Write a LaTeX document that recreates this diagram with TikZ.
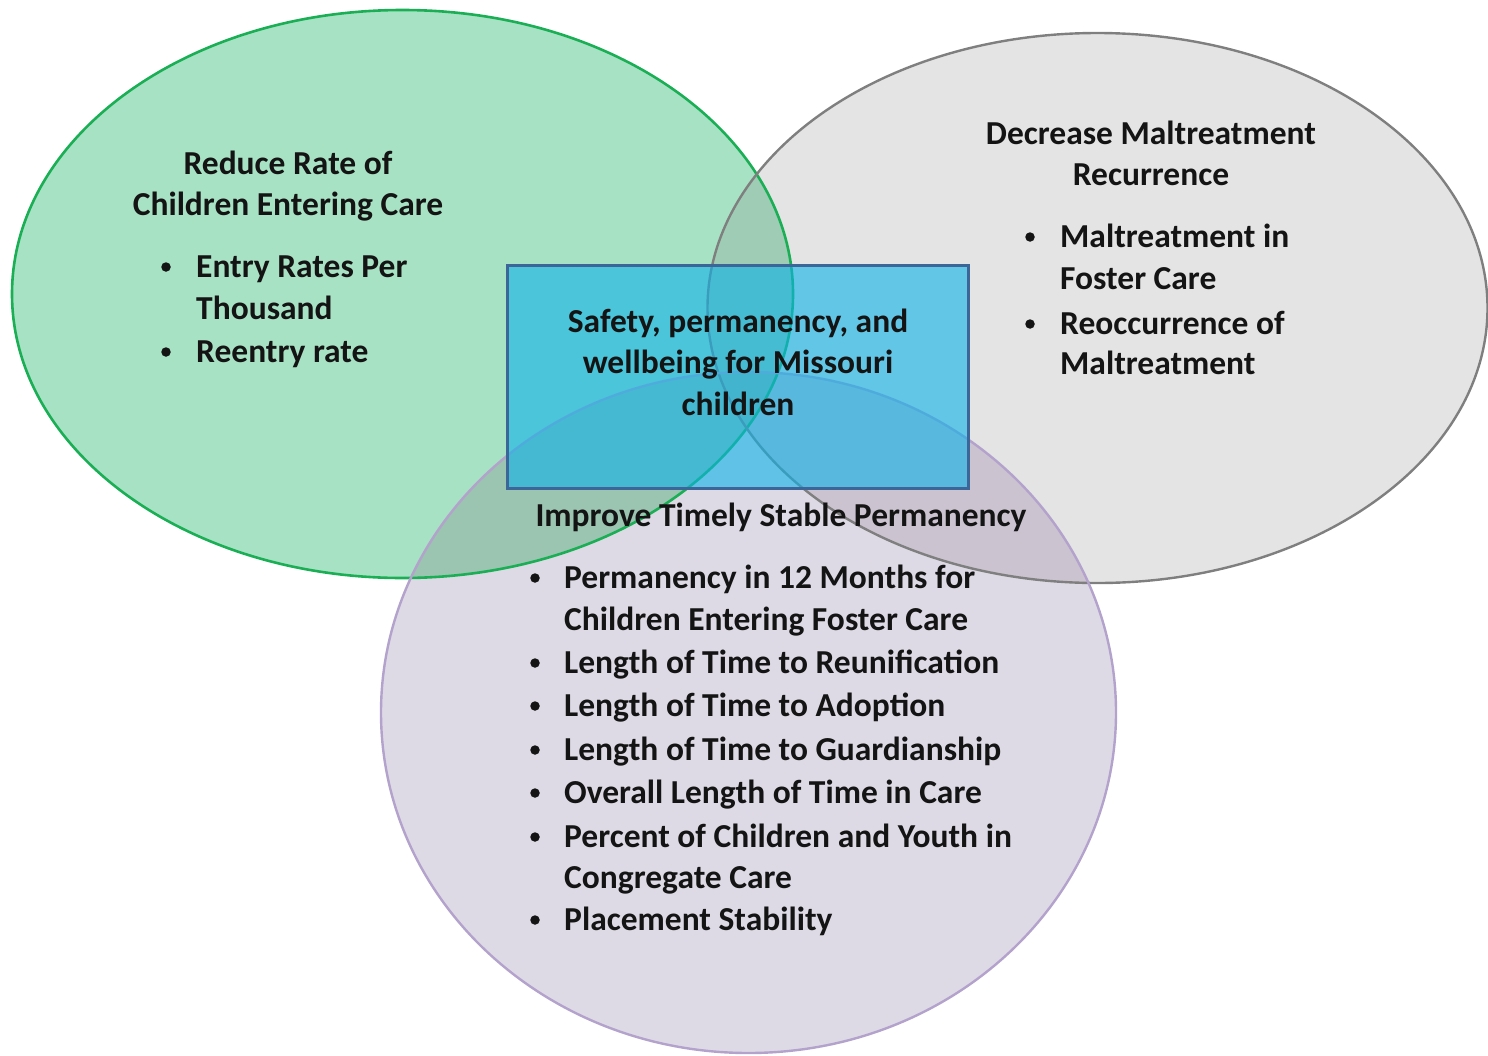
\documentclass[tikz,border=0pt]{standalone}
\usepackage{fontspec}
\setmainfont{Carlito}
\definecolor{gfill}{HTML}{A8E2C4}
\definecolor{gline}{HTML}{1BAF55}
\definecolor{yfill}{HTML}{E4E4E4}
\definecolor{yline}{HTML}{7F7F7F}
\definecolor{pfill}{HTML}{DEDAE5}
\definecolor{pline}{HTML}{B3A2CC}
\definecolor{gy}{HTML}{9FCCB5}
\definecolor{gp}{HTML}{9BC4B1}
\definecolor{yp}{HTML}{CBC3D0}
\definecolor{gyp}{HTML}{93B8A8}
\definecolor{boxc}{HTML}{0CB2E8}
\definecolor{boxline}{HTML}{3D6598}
\definecolor{textc}{HTML}{141414}
\begin{document}
\begin{tikzpicture}[x=1pt,y=-1pt,
  txt/.style={font=\fontsize{33.5}{41}\selectfont\bfseries, text=textc, inner sep=0pt},
  bul/.style={circle, fill=textc, inner sep=0pt, minimum size=9.5pt}]
\useasboundingbox (0,0) rectangle (1488,1055);
\def\greenE{(402.5,294) ellipse [x radius=390.5, y radius=284]}
\def\grayE{(1097.5,308) ellipse [x radius=390, y radius=275]}
\def\purpE{(748.5,712.5) ellipse [x radius=367.5, y radius=340.5]}
% fills
\fill[gfill] \greenE;
\fill[yfill] \grayE;
\fill[pfill] \purpE;
\begin{scope}\clip \greenE; \fill[gy] \grayE; \end{scope}
\begin{scope}\clip \greenE; \fill[gp] \purpE; \end{scope}
\begin{scope}\clip \grayE; \fill[yp] \purpE; \end{scope}
\begin{scope}\clip \greenE; \clip \grayE; \fill[gyp] \purpE; \end{scope}
% outlines
\draw[gline, line width=2.6pt] \greenE;
\draw[yline, line width=2.4pt] \grayE;
\draw[pline, line width=2.4pt] \purpE;
% central box
\node[draw=boxline, line width=3pt, fill=boxc, fill opacity=0.6, draw opacity=1,
  minimum width=461pt, minimum height=223pt, inner sep=0pt] (box) at (737.5,376.5) {};
\node[txt, anchor=base] (c1) at (738,332) {Safety, permanency, and};
\node[txt, anchor=base] (c2) at (738,373) {wellbeing for Missouri};
\node[txt, anchor=base] (c3) at (738,415) {children};
% green circle text
\node[txt, anchor=base] (g1) at (288,174) {Reduce Rate of};
\node[txt, anchor=base] (g2) at (288,215) {Children Entering Care};
\node[bul] (gb1) at (166,267) {};
\node[txt, anchor=base west] (g3) at (196,277) {Entry Rates Per};
\node[txt, anchor=base west] (g4) at (196,319) {Thousand};
\node[bul] (gb2) at (166,352) {};
\node[txt, anchor=base west] (g5) at (196,362) {Reentry rate};
% gray circle text
\node[txt, anchor=base] (y1) at (1151,144) {Decrease Maltreatment};
\node[txt, anchor=base] (y2) at (1151,185) {Recurrence};
\node[bul] (yb1) at (1030,237) {};
\node[txt, anchor=base west] (y3) at (1060,247) {Maltreatment in};
\node[txt, anchor=base west] (y4) at (1060,289) {Foster Care};
\node[bul] (yb2) at (1030,324) {};
\node[txt, anchor=base west] (y5) at (1060,334) {Reoccurrence of};
\node[txt, anchor=base west] (y6) at (1060,374) {Maltreatment};
% purple circle text
\node[txt, anchor=base] (p0) at (781,526) {Improve Timely Stable Permanency};
\node[bul] (pb1) at (535,578) {};
\node[txt, anchor=base west] (p1) at (564,588) {Permanency in 12 Months for};
\node[txt, anchor=base west] (p2) at (564,630) {Children Entering Foster Care};
\node[bul] (pb2) at (535,663) {};
\node[txt, anchor=base west] (p3) at (564,673) {Length of Time to Reunification};
\node[bul] (pb3) at (535,706) {};
\node[txt, anchor=base west] (p4) at (564,716) {Length of Time to Adoption};
\node[bul] (pb4) at (535,750) {};
\node[txt, anchor=base west] (p5) at (564,760) {Length of Time to Guardianship};
\node[bul] (pb5) at (535,793) {};
\node[txt, anchor=base west] (p6) at (564,803) {Overall Length of Time in Care};
\node[bul] (pb6) at (535,837) {};
\node[txt, anchor=base west] (p7) at (564,847) {Percent of Children and Youth in};
\node[txt, anchor=base west] (p8) at (564,888) {Congregate Care};
\node[bul] (pb7) at (535,920) {};
\node[txt, anchor=base west] (p9) at (564,930) {Placement Stability};
\end{tikzpicture}
\end{document}
